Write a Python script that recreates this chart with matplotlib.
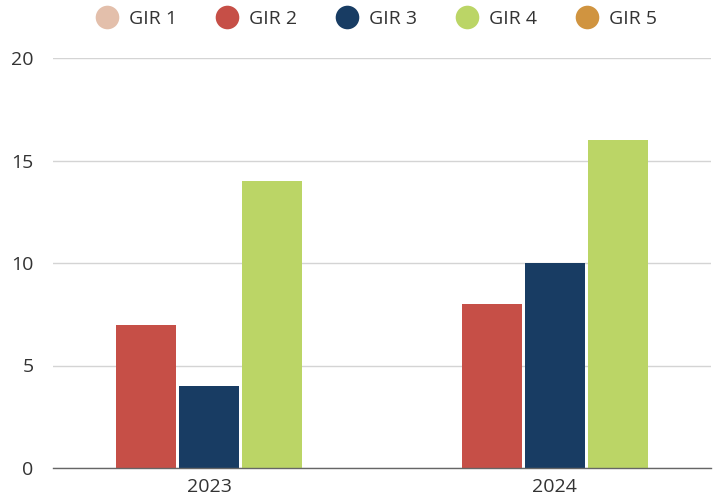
import matplotlib

matplotlib.use("Agg")

import matplotlib.pyplot as plt
import numpy as np

categories = ["2023", "2024"]
series = ["GIR 1", "GIR 2", "GIR 3", "GIR 4", "GIR 5"]
gir1 = [0, 0]
gir2 = [7, 8]
gir3 = [4, 10]
gir4 = [14, 16]
gir5 = [0, 0]
yticks = [0, 5, 10, 15, 20]

COLORS = ["#e3bfab", "#c64f47", "#183c63", "#bbd566", "#d09440"]
TEXT = "#333333"

plt.rcParams["font.family"] = ["Open Sans", "DejaVu Sans"]

fig = plt.figure(figsize=(7.18, 5.0), dpi=100)
ax = fig.add_axes([0.0738, 0.064, 0.9162, 0.82])

x = np.arange(len(categories))
step = 0.182
width = 0.173
for i, (name, values) in enumerate(zip(series, [gir1, gir2, gir3, gir4, gir5])):
    ax.bar(x + (i - 2) * step, values, width, color=COLORS[i], label=name,
           linewidth=0)

ax.set_xlim(-0.451, 1.451)
ax.set_ylim(0, 20)
ax.set_yticks(yticks)
ax.set_xticks(x)
ax.set_xticklabels(categories)
ax.tick_params(axis="both", length=0, labelsize=14, colors=TEXT)
ax.tick_params(axis="y", pad=14)
ax.tick_params(axis="x", pad=7)
ax.grid(axis="y", color="#d4d4d4", linewidth=1)
ax.set_axisbelow(True)
for side in ("top", "right", "left"):
    ax.spines[side].set_visible(False)
ax.spines["bottom"].set_color("#666666")
ax.spines["bottom"].set_linewidth(1)
ax.spines["bottom"].set_zorder(3)

# legend is centred over the plot area, not the figure
handles = [plt.Line2D([], [], marker="o", linestyle="none", markersize=17,
                      markerfacecolor=c, markeredgewidth=0) for c in COLORS]
fig.legend(handles, series, loc="center", bbox_to_anchor=(0.524, 0.962), ncol=5,
           frameon=False, fontsize=14, labelcolor=TEXT, handletextpad=0.55,
           columnspacing=1.95, handlelength=1.2)

fig.savefig("out.png")
